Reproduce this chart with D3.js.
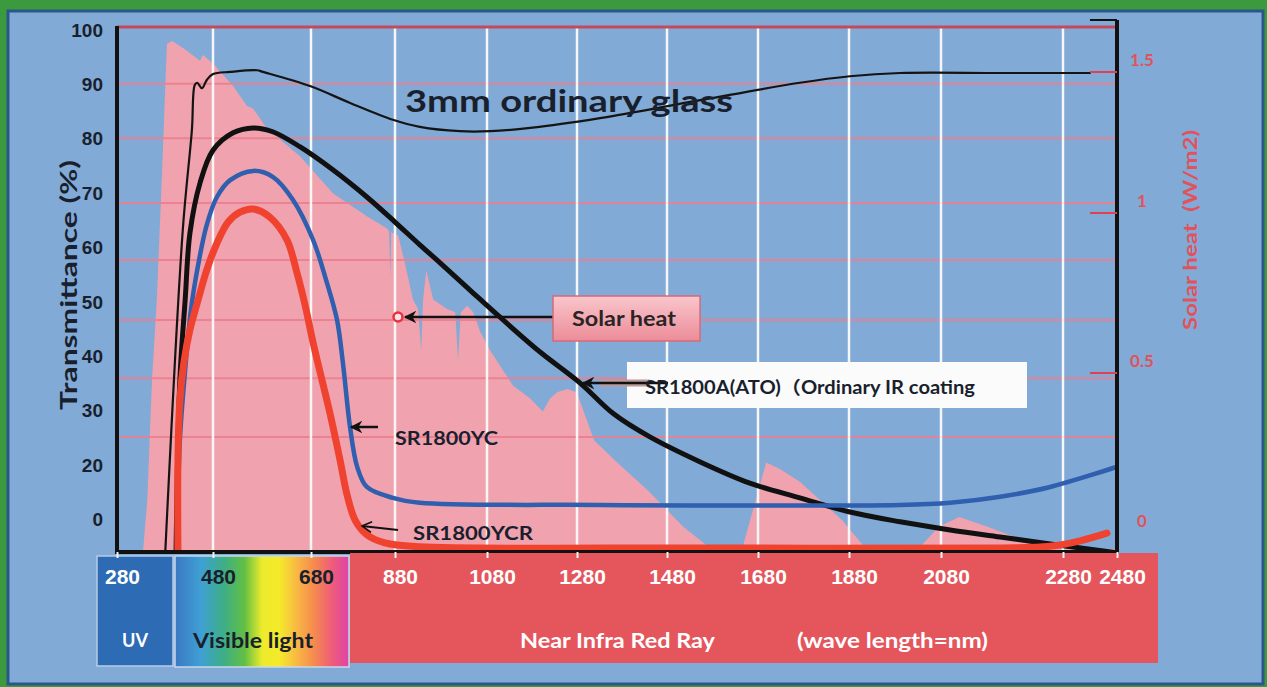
<!DOCTYPE html>
<html>
<head>
<meta charset="utf-8">
<script src="https://cdn.jsdelivr.net/npm/d3@7"></script>
<style>
html, body { margin: 0; padding: 0; background: #3c9a3e; }
svg { display: block; font-family: Lato, "Noto Sans CJK JP", "Open Sans", sans-serif; }
</style>
</head>
<body>
<div id="chart"></div>
<script>
// ---- data ----
const xTicks = [280, 480, 680, 880, 1080, 1280, 1480, 1680, 1880, 2080, 2280, 2480];
const xTickLabels = ["280", "480", "680", "880", "1080", "1280", "1480", "1680", "1880", "2080", "2280", "2480"];
const yTicks = [100, 90, 80, 70, 60, 50, 40, 30, 20, 10];
const yTickLabels = ["100", "90", "80", "70", "60", "50", "40", "30", "20", "0"];
const solarTicks = [0, 0.5, 1, 1.5];
const solarTickLabels = ["0", "0.5", "1", "1.5"];
const gridLevels = [90.1, 80.1, 68.2, 57.7, 46.7, 36, 25.2];

// 3mm ordinary glass
const glassNm = [380, 417, 436, 442, 447, 457, 467, 480, 515, 570, 582, 678, 773, 875, 934, 1021, 1087, 1176, 1331, 1553, 1772, 1882, 1991, 2177, 2380];
const glassT = [3, 63.2, 81.6, 89.9, 90.3, 89.3, 90.8, 91.9, 92.3, 92.6, 92.3, 89.7, 86.6, 83.5, 82.2, 81.4, 81.4, 82, 83.8, 87.1, 90.3, 91.5, 92.1, 92.1, 92.1];

// SR1800A(ATO)
const ato_Nm = [403, 411, 422, 432, 453, 480, 521, 562, 602, 658, 732, 813, 880, 934, 978, 1043, 1109, 1198, 1287, 1362, 1442, 1553, 1662, 1772, 1882, 1991, 2095, 2177, 2259, 2480];
const ato_T = [3.9, 35.7, 50.4, 62.7, 71.9, 77.9, 81.1, 82, 81.3, 78.5, 74.3, 69.3, 64.7, 60.5, 57.2, 52.2, 47.2, 40.8, 35.1, 29.4, 25.2, 20.6, 16.7, 14, 11.4, 9.6, 8.1, 6.8, 5.5, 3.9];

// SR1800YC
const ycNm = [405, 411, 422, 434, 449, 467, 488, 515, 562, 602, 643, 685, 718, 742, 756, 773, 790, 813, 875, 934, 1331, 1991, 2095, 2177, 2259, 2480];
const ycT = [3.9, 24.6, 37.5, 48.5, 56.8, 64.2, 69.3, 72.4, 74.1, 73, 68.8, 61.4, 53.5, 46.7, 38.8, 27, 19.7, 16, 14, 13.1, 12.7, 12.7, 13.1, 14.2, 16, 19.7];

// SR1800YCR
const ycrNm = [407, 407, 411, 420, 432, 449, 467, 488, 511, 535, 562, 596, 631, 651, 668, 685, 706, 725, 749, 766, 785, 813, 856, 934, 1553, 2177, 2259, 2343, 2443];
const ycrT = [3.9, 21, 32, 39.3, 44.9, 50.4, 55.9, 60.8, 64.7, 66.5, 67.1, 65.6, 61.4, 55.5, 49.4, 42.5, 35.7, 29.6, 21, 14.5, 9.9, 7.2, 5.7, 5, 4.8, 4.8, 5.1, 6.1, 7.5];

// solar heat spectrum (W/m2)
const solarNm = [334, 343, 353, 363, 374, 384, 395, 422, 453, 459, 480, 521, 549, 562, 590, 658, 732, 813, 863, 866, 869, 871, 887, 902, 919, 930, 937, 941, 948, 963, 993, 1011, 1017, 1023, 1037, 1050, 1065, 1087, 1138, 1176, 1204, 1220, 1236, 1258, 1280, 1287, 1318, 1362, 1440, 1515, 1577, 1645, 1698, 1728, 1772, 1865, 1917, 2030, 2076, 2110, 2155, 2211, 2246, 2480];
const solarW = [-0.06, 0.1, 0.48, 0.73, 1.15, 1.6, 1.61, 1.58, 1.54, 1.56, 1.53, 1.45, 1.38, 1.37, 1.3, 1.2, 1.07, 0.99, 0.95, 0.94, 0.8, 0.94, 0.93, 0.84, 0.73, 0.7, 0.57, 0.73, 0.82, 0.73, 0.7, 0.69, 0.54, 0.69, 0.71, 0.69, 0.63, 0.57, 0.46, 0.42, 0.38, 0.42, 0.44, 0.45, 0.44, 0.41, 0.29, 0.23, 0.13, 0.02, -0.05, -0.05, 0.22, 0.2, 0.16, 0.04, -0.05, -0.05, 0.02, 0.05, 0.02, -0.02, -0.05, -0.05];

// ---- layout ----
const width = 1267, height = 687;
const plot = { left: 117, right: 1117, top: 27, bottom: 552 };
const ink = "#1a1f2e";

const svg = d3.select("#chart").append("svg")
    .attr("width", width)
    .attr("height", height);

// the wavelength axis of the original is not evenly spaced
const x = d3.scaleLinear()
    .domain(xTicks)
    .range([117, 213, 311, 395, 487, 577, 667, 758, 849, 941, 1063, 1117]);
const y = d3.scaleLinear().domain([0, 100]).range([574, 30]);
const ySolar = d3.scaleLinear().domain(solarTicks).range([533, 373, 213, 72]);

// the original text is stretched sideways, so fit each label to its width
function addText(parent, str, px, len, attrs) {
    const t = parent.append("text")
        .style("font-size", px + "px").style("font-weight", 700)
        .text(str);
    Object.keys(attrs).forEach(k => t.attr(k, attrs[k]));
    if (len) t.attr("textLength", len).attr("lengthAdjust", "spacingAndGlyphs");
    return t;
}

const defs = svg.append("defs");
defs.append("clipPath").attr("id", "plotClip")
    .append("rect")
    .attr("x", plot.left).attr("y", plot.top)
    .attr("width", plot.right - plot.left).attr("height", plot.bottom - plot.top + 1);

defs.append("marker").attr("id", "head")
    .attr("viewBox", "0 0 10 10").attr("refX", 9).attr("refY", 5)
    .attr("markerWidth", 5).attr("markerHeight", 5).attr("orient", "auto")
    .append("path").attr("d", "M10,5 L0,0 L3,5 L0,10 Z").attr("fill", "#111");

defs.append("marker").attr("id", "openHead")
    .attr("viewBox", "0 0 10 10").attr("refX", 9).attr("refY", 5)
    .attr("markerWidth", 6).attr("markerHeight", 6).attr("orient", "auto")
    .append("path").attr("d", "M1,0.5 L9,5 L1,9.5").attr("fill", "none")
    .attr("stroke", "#111").attr("stroke-width", 1.3);

const visGrad = defs.append("linearGradient").attr("id", "visGrad");
[[0, "#3b78c2"], [0.15, "#3fa0d4"], [0.28, "#3eae86"], [0.4, "#62bf44"], [0.5, "#ecec2c"],
 [0.6, "#f4ea2a"], [0.7, "#f8b844"], [0.8, "#f58a4e"], [0.9, "#ef5d78"], [1, "#de44a8"]]
    .forEach(s => visGrad.append("stop").attr("offset", s[0]).attr("stop-color", s[1]));

const pinkGrad = defs.append("linearGradient").attr("id", "pinkGrad")
    .attr("x1", 0).attr("x2", 0).attr("y1", 0).attr("y2", 1);
pinkGrad.append("stop").attr("offset", 0).attr("stop-color", "#f9c6cc");
pinkGrad.append("stop").attr("offset", 1).attr("stop-color", "#ec8c98");

// frame
svg.append("rect").attr("width", width).attr("height", height).attr("fill", "#3c9a3e");
svg.append("rect")
    .attr("x", 8).attr("y", 11).attr("width", 1255).attr("height", 673)
    .attr("fill", "#81aad6").attr("stroke", "#2b5688").attr("stroke-width", 3);

const plotG = svg.append("g").attr("clip-path", "url(#plotClip)");

// solar heat area
const solarPts = solarNm.map((d, i) => [d, solarW[i]]);
plotG.append("path")
    .datum(solarPts)
    .attr("fill", "#f0a3ae")
    .attr("d", d3.area()
        .x(d => x(d[0]))
        .y0(plot.bottom)
        .y1(d => ySolar(d[1])));

// grid
plotG.selectAll("line.hgrid").data(gridLevels).enter().append("line")
    .attr("class", "hgrid")
    .attr("x1", plot.left).attr("x2", plot.right)
    .attr("y1", d => y(d)).attr("y2", d => y(d))
    .attr("stroke", "#ec7f8e").attr("stroke-width", 2).attr("opacity", 0.9);

plotG.selectAll("line.vgrid").data(xTicks.slice(1, -1)).enter().append("line")
    .attr("class", "vgrid")
    .attr("x1", d => x(d)).attr("x2", d => x(d))
    .attr("y1", plot.top).attr("y2", plot.bottom)
    .attr("stroke", "#f6f6f6").attr("stroke-width", 2.5);

// transmittance curves
const line = d3.line()
    .x(d => x(d[0]))
    .y(d => y(d[1]))
    .curve(d3.curveCatmullRom.alpha(0.5));

const curves = [
    { nm: glassNm, t: glassT, color: "#141414", w: 2.2 },
    { nm: ato_Nm, t: ato_T, color: "#111111", w: 5 },
    { nm: ycNm, t: ycT, color: "#2f5fae", w: 4.5 },
    { nm: ycrNm, t: ycrT, color: "#f0432f", w: 7 }
];
curves.forEach(c => {
    plotG.append("path")
        .datum(c.nm.map((d, i) => [d, c.t[i]]))
        .attr("d", line)
        .attr("fill", "none")
        .attr("stroke", c.color)
        .attr("stroke-width", c.w)
        .attr("stroke-linejoin", "round")
        .attr("stroke-linecap", "round");
});

// frame lines of the plot
svg.append("line").attr("x1", plot.left).attr("x2", plot.right)
    .attr("y1", plot.top).attr("y2", plot.top)
    .attr("stroke", "#c24a5c").attr("stroke-width", 3);
svg.append("line").attr("x1", plot.left).attr("x2", plot.right)
    .attr("y1", plot.bottom).attr("y2", plot.bottom)
    .attr("stroke", "#111").attr("stroke-width", 4);
svg.append("line").attr("x1", plot.left).attr("x2", plot.left)
    .attr("y1", plot.top - 1).attr("y2", plot.bottom + 2)
    .attr("stroke", "#111").attr("stroke-width", 4);
svg.append("line").attr("x1", plot.right).attr("x2", plot.right)
    .attr("y1", 20).attr("y2", plot.bottom + 2)
    .attr("stroke", "#111").attr("stroke-width", 4);
svg.append("line").attr("x1", plot.right - 27).attr("x2", plot.right)
    .attr("y1", 20).attr("y2", 20)
    .attr("stroke", "#111").attr("stroke-width", 2);

// left axis
const yAxisGroup = svg.append("g")
    .attr("transform", `translate(${plot.left}, 0)`)
    .call(d3.axisLeft(y).tickValues(yTicks).tickSize(0).tickPadding(14)
        .tickFormat((d, i) => yTickLabels[i]));
yAxisGroup.select(".domain").remove();
yAxisGroup.selectAll("text")
    .style("font-size", "19px").style("font-weight", 700).attr("fill", ink);

addText(svg, "Transmittance (%)", 23, 250, {
    transform: "translate(77, 285) rotate(-90)", "text-anchor": "middle", fill: ink });

// right axis (solar heat)
svg.selectAll("line.sTick").data(solarTicks.filter(d => d > 0)).enter().append("line")
    .attr("class", "sTick")
    .attr("x1", plot.right - 27).attr("x2", plot.right)
    .attr("y1", d => ySolar(d)).attr("y2", d => ySolar(d))
    .attr("stroke", "#e2404f").attr("stroke-width", 2);
svg.selectAll("text.sLabel").data(solarTicks).enter().append("text")
    .attr("class", "sLabel")
    .attr("x", plot.right + 25)
    .attr("y", d => ySolar(d) - 6)
    .attr("text-anchor", "middle")
    .style("font-size", "17px").style("font-weight", 700)
    .attr("fill", "#e2525c")
    .text((d, i) => solarTickLabels[i]);
addText(svg, "Solar heat  (W/m2)", 18, 200, {
    transform: "translate(1197, 230) rotate(-90)", "text-anchor": "middle",
    fill: "#e2525c", "xml:space": "preserve" });

// title
addText(svg, "3mm ordinary glass", 31, 328, { x: 405, y: 112, fill: ink });

// annotations
const ann = svg.append("g");
ann.append("line")
    .attr("x1", 553).attr("y1", 317).attr("x2", 405).attr("y2", 317)
    .attr("stroke", "#111").attr("stroke-width", 2.5)
    .attr("marker-end", "url(#head)");
ann.append("circle").attr("cx", 398).attr("cy", 317).attr("r", 4.5)
    .attr("fill", "#fbe0e4").attr("stroke", "#e8303f").attr("stroke-width", 2.5);
ann.append("rect").attr("x", 553).attr("y", 296).attr("width", 147).attr("height", 45)
    .attr("fill", "url(#pinkGrad)").attr("stroke", "#d86a7a").attr("stroke-width", 1.5);
addText(ann, "Solar heat", 20, 104, { x: 572, y: 326, fill: "#2a2426" });

ann.append("rect").attr("x", 627).attr("y", 362).attr("width", 400).attr("height", 46)
    .attr("fill", "#fbfbfb");
ann.append("line")
    .attr("x1", 600).attr("y1", 383).attr("x2", 650).attr("y2", 383)
    .attr("stroke", "#b89a98").attr("stroke-width", 7);
ann.append("line")
    .attr("x1", 668).attr("y1", 383).attr("x2", 583).attr("y2", 383)
    .attr("stroke", "#111").attr("stroke-width", 2.5)
    .attr("marker-end", "url(#head)");
addText(ann, "SR1800A(ATO)（Ordinary IR coating", 18, 330, { x: 645, y: 394, fill: ink });

ann.append("line")
    .attr("x1", 378).attr("y1", 427).attr("x2", 351).attr("y2", 427)
    .attr("stroke", "#111").attr("stroke-width", 2.5)
    .attr("marker-end", "url(#head)");
addText(ann, "SR1800YC", 18, 103, { x: 395, y: 445, fill: ink });

ann.append("line")
    .attr("x1", 398).attr("y1", 530).attr("x2", 362).attr("y2", 526)
    .attr("stroke", "#111").attr("stroke-width", 2)
    .attr("marker-end", "url(#openHead)");
addText(ann, "SR1800YCR", 18, 120, { x: 413, y: 540, fill: ink });

// bottom wavelength band
const band = svg.append("g");
band.append("rect").attr("x", 350).attr("y", 553).attr("width", 808).attr("height", 110)
    .attr("fill", "#e5555c");
band.append("rect").attr("x", 97).attr("y", 556).attr("width", 76).attr("height", 110)
    .attr("fill", "#2d6bb5").attr("stroke", "#b8cce4").attr("stroke-width", 1.5);
band.append("rect").attr("x", 175).attr("y", 556).attr("width", 174).attr("height", 111)
    .attr("fill", "url(#visGrad)").attr("stroke", "#c8d8ea").attr("stroke-width", 1.5);

const xAxisGroup = svg.append("g")
    .attr("transform", `translate(0, ${plot.bottom})`)
    .call(d3.axisBottom(x).tickValues(xTicks).tickSize(6)
        .tickFormat((d, i) => xTickLabels[i]));
xAxisGroup.select(".domain").remove();
xAxisGroup.selectAll(".tick line").attr("stroke", "#f4f4f4").attr("stroke-width", 2);
xAxisGroup.selectAll(".tick text")
    .attr("y", 32).attr("dy", 0).attr("dx", 5)
    .style("font-size", "21px").style("font-weight", 700)
    .attr("fill", (d, i) => (i === 1 || i === 2) ? ink : "#ffffff");

addText(band, "UV", 18, 26, { x: 122, y: 647, fill: "#fff" });
addText(band, "Visible light", 20, 120, { x: 193, y: 648, fill: ink });
addText(band, "Near Infra Red Ray", 20, 195, { x: 520, y: 648, fill: "#fff" });
addText(band, "(wave length=nm)", 20, 191, { x: 797, y: 648, fill: "#fff" });
</script>
</body>
</html>
